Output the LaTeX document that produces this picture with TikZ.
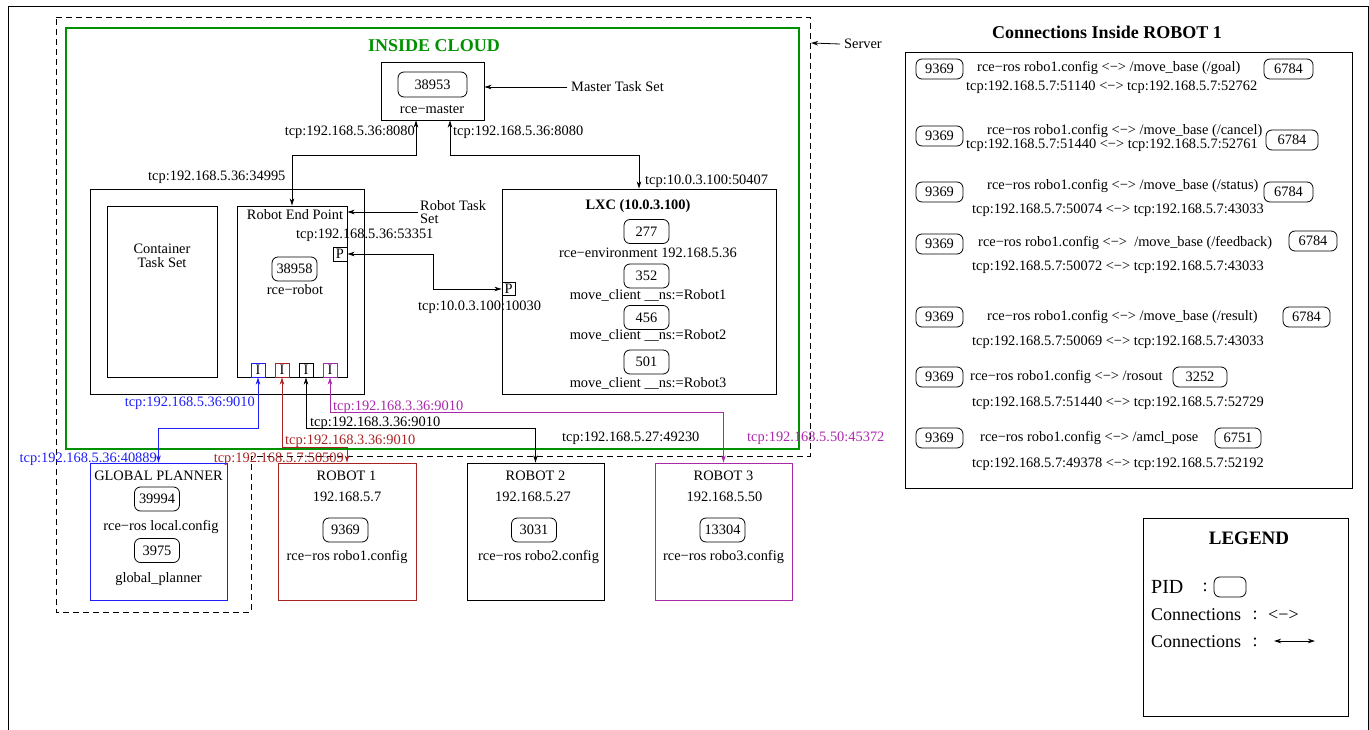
\documentclass[tikz,border=0pt]{standalone}
\usepackage{fontspec}
\setmainfont{Liberation Serif}
\usepackage{tikz}
\usetikzlibrary{arrows.meta}
\usetikzlibrary{calc}
\usetikzlibrary{positioning}

\definecolor{cloudgreen}{RGB}{0,145,0}
\definecolor{gpblue}{RGB}{30,30,250}
\definecolor{robred}{RGB}{170,35,35}
\definecolor{robpurple}{RGB}{170,40,170}

\tikzset{
	box/.style={draw,line width=0.9pt,inner sep=0pt},
	pid/.style={draw,rounded corners=6pt,minimum width=45pt,minimum height=24pt,inner sep=0pt,line width=0.8pt},
	pidsm/.style={pid,minimum width=47pt,minimum height=20pt},
	port/.style={draw,minimum size=14pt,inner sep=0pt,line width=0.9pt},
	txt/.style={inner sep=0pt},
	bigtxt/.style={inner sep=0pt,font=\fontsize{18}{20}\selectfont\bfseries},
	legtxt/.style={inner sep=0pt,font=\fontsize{18}{20}\selectfont},
	link/.style={line width=0.8pt,{Stealth[length=7pt,width=4.5pt,inset=2pt]}-{Stealth[length=7pt,width=4.5pt,inset=2pt]}},
	tolink/.style={line width=0.8pt,-{Stealth[length=7pt,width=4.5pt,inset=2pt]}}
}

\begin{document}
\begin{tikzpicture}[x=1pt,y=-1pt,every node/.style={font=\fontsize{14.4}{13.5}\selectfont}]
	\useasboundingbox (0,0) rectangle (1369,730);
	
	% outer frame and server area
	\draw[line width=1pt] (8,740) -- (8,7) -- (1368,7) -- (1368,740);
	\draw[line width=0.8pt,dash pattern=on 6pt off 4pt] (56,17) -- (810,17) -- (810,456) -- (251,456) -- (251,612) -- (56,612) -- cycle;
	\coordinate (srvedge) at (811,43);
	\node[txt,anchor=west] (srv) at (844,44) {Server};
	\draw[tolink] ([xshift=-4pt]srv.west) -- (srvedge);
	
	% cloud
	\draw[cloudgreen,line width=1.2pt] (66,28) rectangle (799,449);
	\node[bigtxt,text=cloudgreen] (cloudtitle) at (434,46) {INSIDE CLOUD};
	
	\node[box,minimum width=103pt,minimum height=58pt] (master) at (432.5,91) {};
	\node[pid,minimum width=69pt,minimum height=25pt] (pidmaster) at (432.5,84.5) {38953};
	\node[txt] (masterlbl) at (432,110) {rce−master};
	\node[txt,anchor=west] (mts) at (571,87) {Master Task Set};
	\draw[tolink] ([xshift=-4pt]mts.west) -- (master.east |- mts.west);
	
	\node[box,minimum width=274pt,minimum height=205pt] (container) at (227,291.5) {};
	\node[box,minimum width=110pt,minimum height=171pt] (cts) at (162,291.5) {};
	\node[txt,align=center] (ctslbl) at (162,256) {Container\\Task Set};
	\node[box,minimum width=110pt,minimum height=171pt] (rep) at (292,291.5) {};
	\node[txt] (replbl) at (295,215) {Robot End Point};
	\node[pid] (pidrobot) at (294.5,269) {38958};
	\node[txt] (robotlbl) at (295,290) {rce−robot};
	\node[txt,anchor=west,align=left] (rts) at (420,212) {Robot Task\\Set};
	\draw[tolink] ([xshift=-2pt]rts.west) -- (rep.east |- rts.west);
	
	\node[port] (p1) at (340,254) {P};
	\node[port,minimum size=13pt] (p2) at (508.5,289) {P};
	\node[port,draw=gpblue] (iblue) at (258,370) {I};
	\node[port,draw=robred] (ired) at (282,370) {I};
	\node[port] (iblack) at (306,370) {I};
	\node[port,draw=robpurple] (ipurple) at (330,370) {I};
	
	\node[box,minimum width=274pt,minimum height=205pt] (lxc) at (639,291.5) {};
	\node[txt,font=\fontsize{14.4}{15}\selectfont\bfseries] (lxclbl) at (638,206) {LXC (10.0.3.100)};
	\node[pid] (pid277) at (646.5,231.5) {277};
	\node[txt] (envlbl) at (648,253) {rce−environment 192.168.5.36};
	\node[pid] (pid352) at (646.5,276) {352};
	\node[txt] (mc1lbl) at (648,295) {move\_client \_\_ns:=Robot1};
	\node[pid] (pid456) at (646.5,317.5) {456};
	\node[txt] (mc2lbl) at (648,335) {move\_client \_\_ns:=Robot2};
	\node[pid] (pid501) at (646.5,362) {501};
	\node[txt] (mc3lbl) at (648,383) {move\_client \_\_ns:=Robot3};
	
	% machines outside the cloud
	\node[box,draw=gpblue,minimum width=137pt,minimum height=137pt] (gp) at (158.5,531.5) {};
	\node[txt] (gplbl) at (158.5,476) {GLOBAL PLANNER};
	\node[pid] (pid39994) at (157,499) {39994};
	\node[txt] (gpcfg) at (161,527) {rce−ros local.config};
	\node[pid] (pid3975) at (157,550.5) {3975};
	\node[txt] (gpname) at (158.5,579) {global\_planner};
	
	\node[box,draw=robred,minimum width=138pt,minimum height=137pt] (r1) at (347,531.5) {};
	\node[txt] (r1lbl) at (346.5,476) {ROBOT 1};
	\node[txt] (r1ip) at (347,497) {192.168.5.7};
	\node[pid] (pid9369) at (345.5,530) {9369};
	\node[txt] (r1cfg) at (347,557) {rce−ros robo1.config};
	
	\node[box,minimum width=137pt,minimum height=137pt] (r2) at (535.5,531.5) {};
	\node[txt] (r2lbl) at (535.5,476) {ROBOT 2};
	\node[txt] (r2ip) at (533,497) {192.168.5.27};
	\node[pid] (pid3031) at (534,530) {3031};
	\node[txt] (r2cfg) at (538.5,557) {rce−ros robo2.config};
	
	\node[box,draw=robpurple,minimum width=137pt,minimum height=137pt] (r3) at (723.5,531.5) {};
	\node[txt] (r3lbl) at (723.5,476) {ROBOT 3};
	\node[txt] (r3ip) at (724.5,497) {192.168.5.50};
	\node[pid] (pid13304) at (722.5,530) {13304};
	\node[txt] (r3cfg) at (723.5,557) {rce−ros robo3.config};
	
	% connections
	\draw[link] ([xshift=-16.5pt]master.south) -- ++(0,35) -| (rep.north);
	\draw[link] ([xshift=17.5pt]master.south) -- ++(0,35) -| (lxc.north);
	\draw[link] (p1.east) -- ++(86,0) |- (p2.west);
	\draw[link,gpblue] (iblue.south) -- ++(0,51) -| (gp.north);
	\draw[link,robred] (ired.south) -- ++(0,70) -| (r1.north);
	\draw[link] (iblack.south) -- ++(0,51) -| (r2.north);
	\draw[link,robpurple] (ipurple.south) -- ++(0,35) -| (r3.north);
	
	\node[txt,anchor=east] (t8080a) at (415,132) {tcp:192.168.5.36:8080};
	\node[txt,anchor=west] (t8080b) at (453,132) {tcp:192.168.5.36:8080};
	\node[txt,anchor=west] (t50407) at (645,181) {tcp:10.0.3.100:50407};
	\node[txt,anchor=west] (t34995) at (148,177) {tcp:192.168.5.36:34995};
	\node[txt,anchor=west] (t53351) at (296,235) {tcp:192.168.5.36:53351};
	\node[txt,anchor=west] (t10030) at (418,307) {tcp:10.0.3.100:10030};
	\node[txt,anchor=east,text=gpblue] (tb9010) at (255,403) {tcp:192.168.5.36:9010};
	\node[txt,anchor=east,text=gpblue] (t40889) at (157,459) {tcp:192.168.5.36:40889};
	\node[txt,anchor=west,text=robred] (tr9010) at (285,441) {tcp:192.168.3.36:9010};
	\node[txt,anchor=east,text=robred] (t50509) at (344,459) {tcp:192.168.5.7:50509};
	\node[txt,anchor=west] (tk9010) at (310,423) {tcp:192.168.3.36:9010};
	\node[txt,anchor=west] (t49230) at (562,438) {tcp:192.168.5.27:49230};
	\node[txt,anchor=west,text=robpurple] (tp9010) at (333,407) {tcp:192.168.3.36:9010};
	\node[txt,anchor=west,text=robpurple] (t45372) at (747,438) {tcp:192.168.5.50:45372};
	
	% connections inside robot 1
	\node[bigtxt] (contitle) at (1107,32) {Connections Inside ROBOT 1};
	\node[box,minimum width=447pt,minimum height=436pt] (conbox) at (1128.5,270) {};
	
	\node[pidsm] (ca) at (939.5,69) {9369};
	\node[txt,anchor=west] (calbl) at (977,68) {rce−ros robo1.config <−> /move\_base (/goal)};
	\node[pidsm,minimum width=49pt] (cb) at (1288.5,69) {6784};
	\node[txt,anchor=west] (catcp) at (966,87) {tcp:192.168.5.7:51140 <−> tcp:192.168.5.7:52762};
	
	\node[pidsm] (da) at (939.5,136) {9369};
	\node[txt,anchor=west] (dalbl) at (987,131) {rce−ros robo1.config <−> /move\_base (/cancel)};
	\node[pidsm,minimum width=52pt] (db) at (1292,140) {6784};
	\node[txt,anchor=west] (datcp) at (966,145) {tcp:192.168.5.7:51440 <−> tcp:192.168.5.7:52761};
	
	\node[pidsm] (ea) at (939.5,192) {9369};
	\node[txt,anchor=west] (ealbl) at (987,186) {rce−ros robo1.config <−> /move\_base (/status)};
	\node[pidsm,minimum width=49pt] (eb) at (1288.5,192) {6784};
	\node[txt,anchor=west] (eatcp) at (972,210) {tcp:192.168.5.7:50074 <−> tcp:192.168.5.7:43033};
	
	\node[pidsm] (fa) at (939.5,244) {9369};
	\node[txt,anchor=west] (falbl) at (978,243) {rce−ros robo1.config <−>\ \ /move\_base (/feedback)};
	\node[pidsm,minimum width=48pt] (fb) at (1313,241) {6784};
	\node[txt,anchor=west] (fatcp) at (972,267) {tcp:192.168.5.7:50072 <−> tcp:192.168.5.7:43033};
	
	\node[pidsm] (ga) at (939.5,317) {9369};
	\node[txt,anchor=west] (galbl) at (987,317) {rce−ros robo1.config <−> /move\_base (/result)};
	\node[pidsm] (gb) at (1306.5,317) {6784};
	\node[txt,anchor=west] (gatcp) at (972,342) {tcp:192.168.5.7:50069 <−> tcp:192.168.5.7:43033};
	
	\node[pidsm] (ha) at (939.5,377) {9369};
	\node[txt,anchor=west] (halbl) at (970,377) {rce−ros robo1.config <−> /rosout};
	\node[pidsm,minimum width=54pt] (hb) at (1200,377) {3252};
	\node[txt,anchor=west] (hatcp) at (972,403) {tcp:192.168.5.7:51440 <−> tcp:192.168.5.7:52729};
	
	\node[pidsm] (ia) at (939.5,438) {9369};
	\node[txt,anchor=west] (ialbl) at (980,438) {rce−ros robo1.config <−> /amcl\_pose};
	\node[pidsm,minimum width=46pt] (ib) at (1238,438) {6751};
	\node[txt,anchor=west] (iatcp) at (972,464) {tcp:192.168.5.7:49378 <−> tcp:192.168.5.7:52192};
	
	% legend
	\node[box,minimum width=205pt,minimum height=198pt] (legend) at (1245.5,617) {};
	\node[bigtxt,font=\fontsize{19}{21}\selectfont\bfseries] (legtitle) at (1249,538) {LEGEND};
	\node[legtxt,anchor=west,font=\fontsize{20}{22}\selectfont] (legpid) at (1151,587) {PID};
	\node[legtxt] (legpidc) at (1205,587) {:};
	\node[pid,minimum width=32pt,minimum height=20pt] (legbox) at (1230,587) {};
	\node[legtxt,anchor=west] (legconA) at (1151,615) {Connections};
	\node[legtxt] (legconAc) at (1255,615) {:};
	\node[legtxt,anchor=west] (legsym) at (1268,615) {<−>};
	\node[legtxt,anchor=west] (legconB) at (1151,642) {Connections};
	\node[legtxt] (legconBc) at (1255,642) {:};
	\coordinate (legA) at (1274,641);
	\coordinate (legB) at (1315,641);
	\draw[link] (legA) -- (legB);
	
\end{tikzpicture}
\end{document}
